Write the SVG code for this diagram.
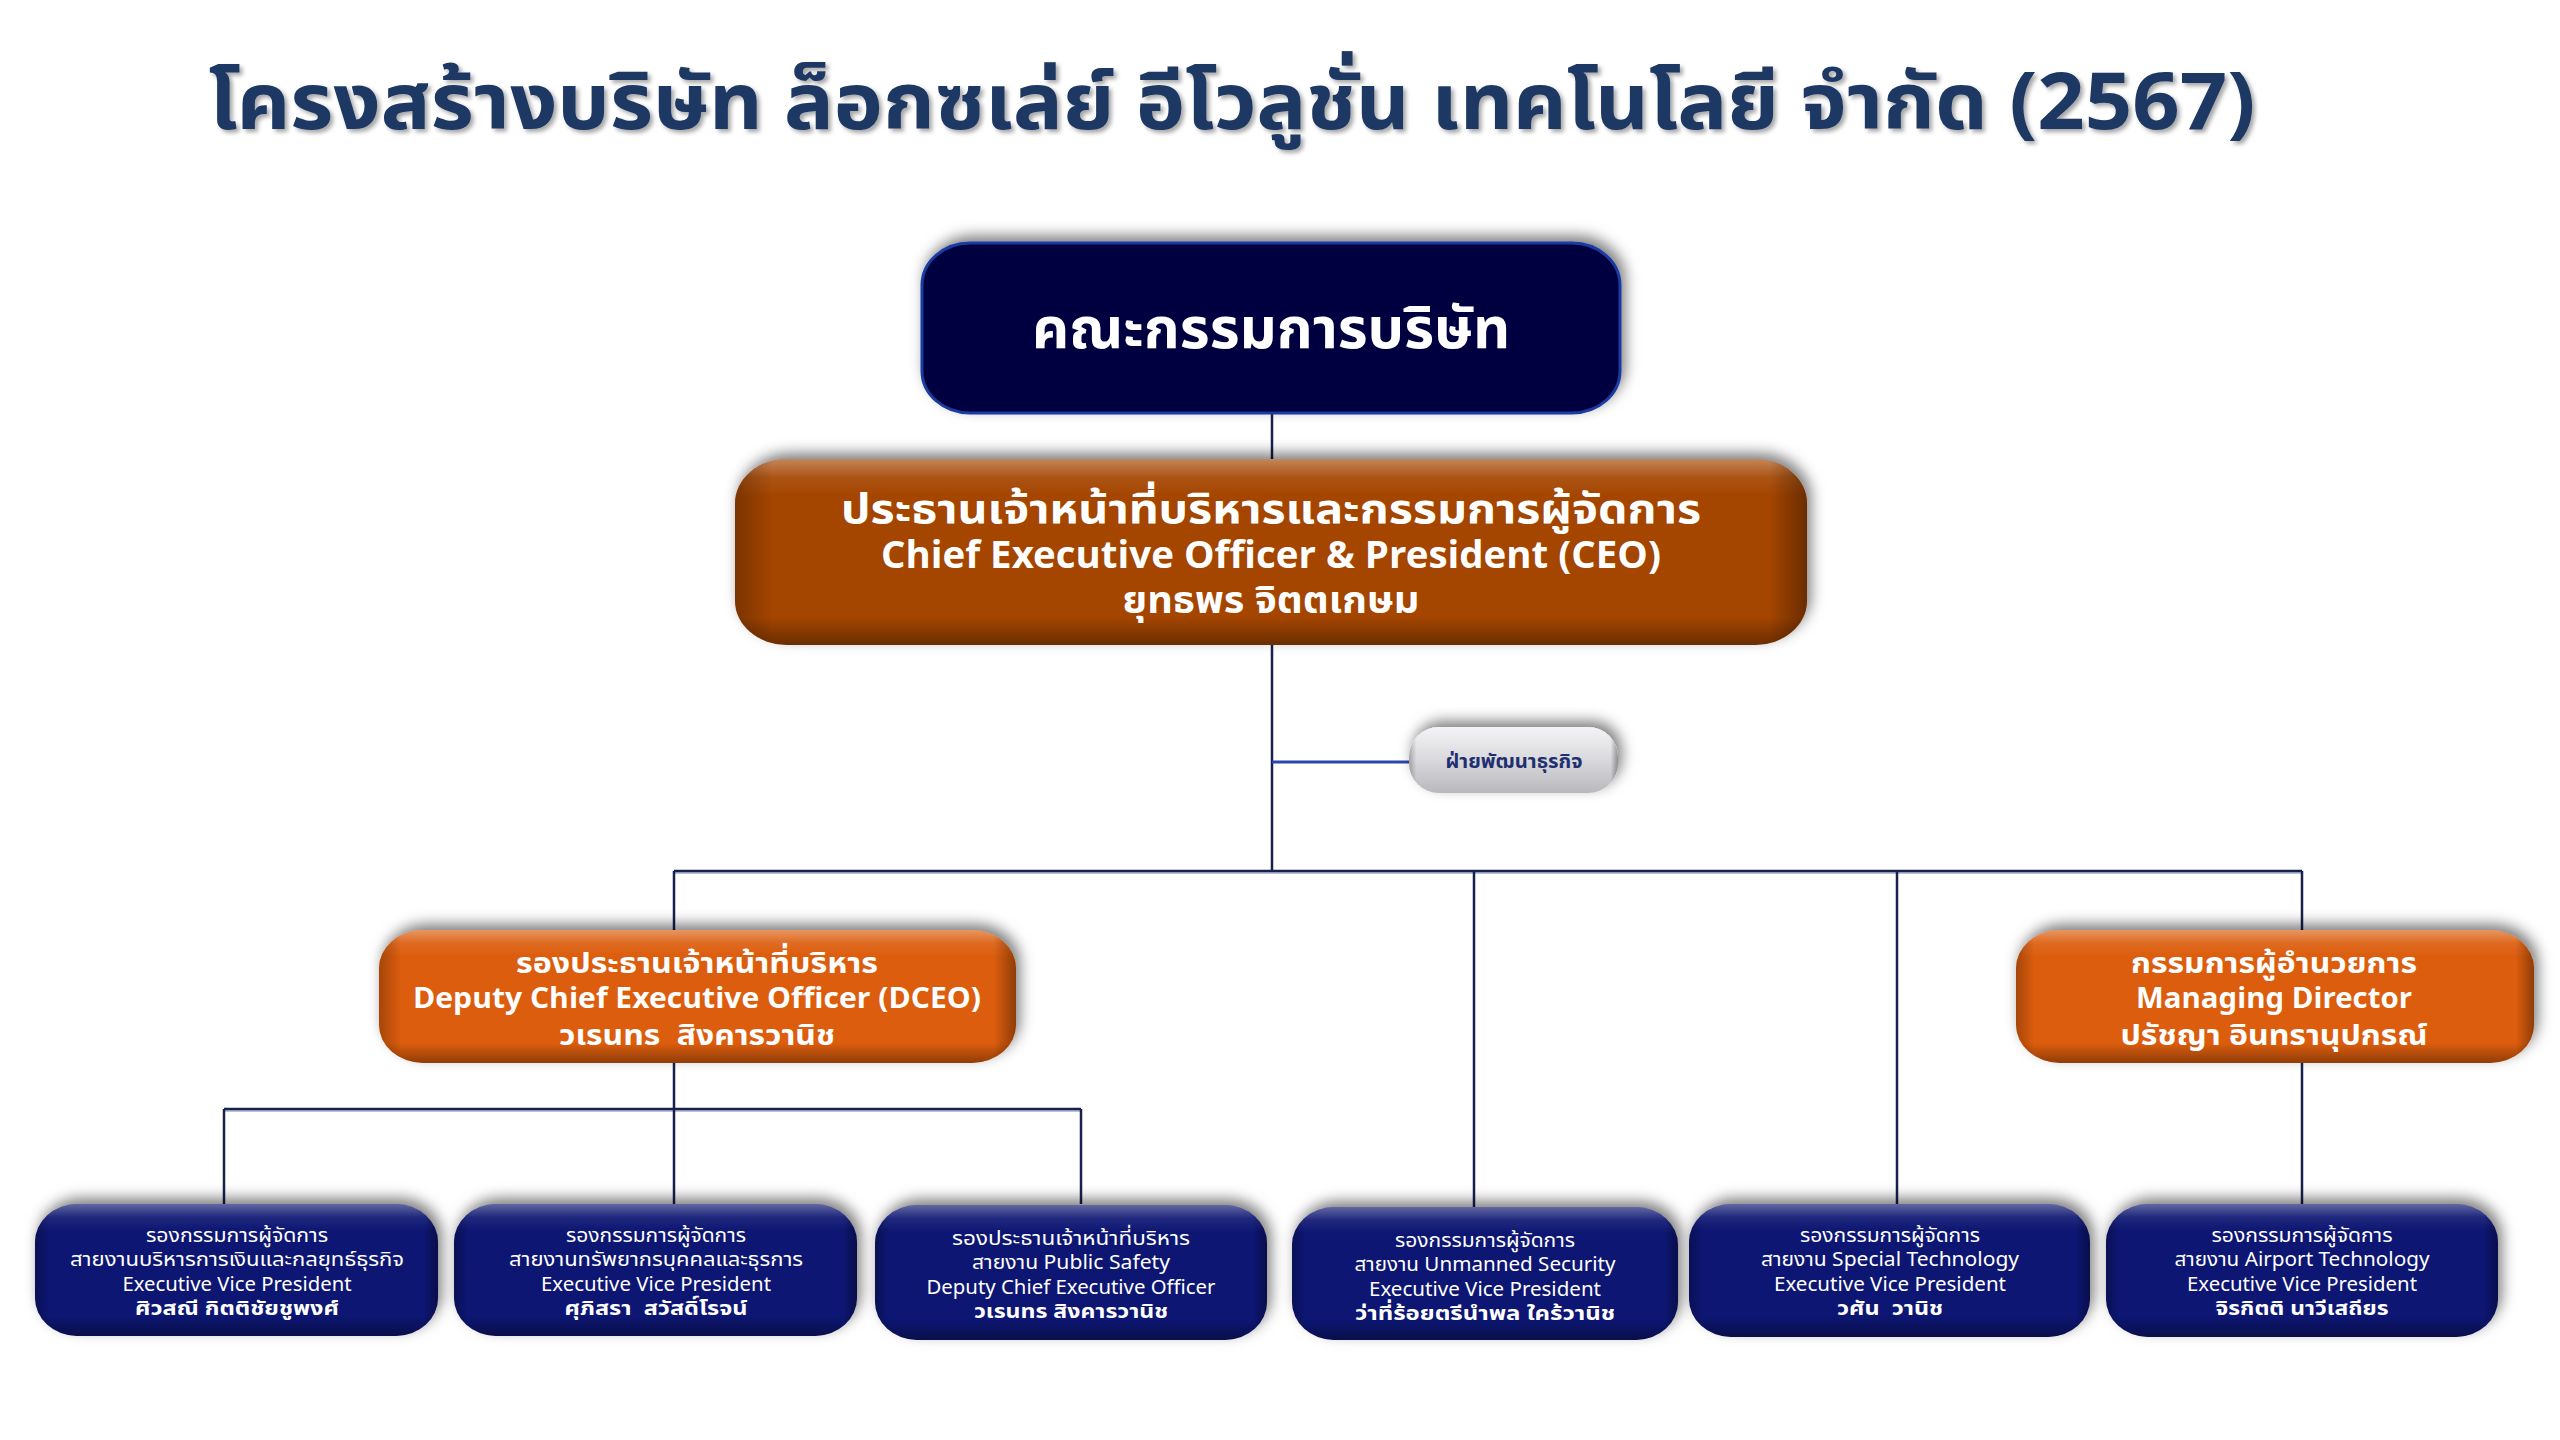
<svg xmlns="http://www.w3.org/2000/svg" width="2560" height="1440" viewBox="0 0 2560 1440">
<defs>
<filter id="shadow" x="-10%" y="-30%" width="120%" height="160%">
<feDropShadow dx="4" dy="-6" stdDeviation="7" flood-color="#000" flood-opacity="0.5"/>
</filter>
<filter id="tshadow" x="-5%" y="-30%" width="110%" height="160%">
<feDropShadow dx="3" dy="3" stdDeviation="2" flood-color="#000" flood-opacity="0.35"/>
</filter>
<linearGradient id="bevV" x1="0" y1="0" x2="0" y2="1">
<stop offset="0" stop-color="#fff" stop-opacity="0.35"/>
<stop offset="0.1" stop-color="#fff" stop-opacity="0.08"/>
<stop offset="0.2" stop-color="#fff" stop-opacity="0"/>
<stop offset="0.85" stop-color="#000" stop-opacity="0"/>
<stop offset="1" stop-color="#000" stop-opacity="0.35"/>
</linearGradient>
<linearGradient id="bevH" x1="0" y1="0" x2="1" y2="0">
<stop offset="0" stop-color="#000" stop-opacity="0.25"/>
<stop offset="0.035" stop-color="#000" stop-opacity="0"/>
<stop offset="0.965" stop-color="#000" stop-opacity="0"/>
<stop offset="1" stop-color="#000" stop-opacity="0.35"/>
</linearGradient>
<linearGradient id="silver" x1="0" y1="0" x2="0" y2="1">
<stop offset="0" stop-color="#f4f4f6"/>
<stop offset="0.5" stop-color="#d9d8dc"/>
<stop offset="1" stop-color="#b9b8bc"/>
</linearGradient>
<style>
.t{font-family:Tahoma,"Noto Sans Thai","Leelawadee UI","Noto Sans","DejaVu Sans",sans-serif;text-anchor:middle;fill:#fff}
.b{font-weight:bold}
.ln{stroke:#18204e;stroke-width:2.5;fill:none}
.lnsh{stroke:#b7c2da;stroke-width:2;fill:none}
.navy{fill:#101472}
.board{fill:#03053f;stroke:#1a3aa0;stroke-width:3}
.ceo{fill:#a44405}
.dceo{fill:#dc5d08}
.bv{fill:url(#bevV)}
.bh{fill:url(#bevH)}
.s20{font-size:20px}
</style>
</defs>
<rect width="2560" height="1440" fill="#fff"/>

<text class="t b" x="1232" y="129" font-size="78" textLength="2047" lengthAdjust="spacingAndGlyphs" style="fill:#1f3864" filter="url(#tshadow)">โครงสร้างบริษัท ล็อกซเล่ย์ อีโวลูชั่น เทคโนโลยี จำกัด (2567)</text>

<g id="connectors">
<line class="lnsh" x1="674" y1="873" x2="2302" y2="873"/>
<line class="lnsh" x1="224" y1="1111" x2="1081" y2="1111"/>
<path class="ln" d="M1272 413 V459 M1272 645 V871 M674 871 H2302 M674 871 V930 M1474 871 V1207 M1897 871 V1204 M2302 871 V930 M674 1063 V1204 M224 1109 H1081 M224 1109 V1204 M1081 1109 V1204 M2302 1063 V1204"/>
<line x1="1272" y1="762" x2="1410" y2="762" stroke="#2b46ad" stroke-width="3"/>
</g>

<g id="board">
<rect class="board" x="922" y="243" width="698" height="170" rx="48" ry="42" filter="url(#shadow)"/>
<text class="t b" x="1271" y="348" font-size="56" textLength="478" lengthAdjust="spacingAndGlyphs">คณะกรรมการบริษัท</text>
</g>

<g id="ceo">
<rect class="ceo" x="735" y="459" width="1072" height="186" rx="52" ry="44" filter="url(#shadow)"/>
<rect class="bv" x="735" y="459" width="1072" height="186" rx="52" ry="44"/>
<rect class="bh" x="735" y="459" width="1072" height="186" rx="52" ry="44"/>
<text class="t b" x="1271" y="523" font-size="40" textLength="860" lengthAdjust="spacingAndGlyphs">ประธานเจ้าหน้าที่บริหารและกรรมการผู้จัดการ</text>
<text class="t b" x="1271" y="568" font-size="37" textLength="780" lengthAdjust="spacingAndGlyphs">Chief Executive Officer &amp; President (CEO)</text>
<text class="t b" x="1271" y="613" font-size="37" textLength="297" lengthAdjust="spacingAndGlyphs">ยุทธพร จิตตเกษม</text>
</g>

<g id="bizdev">
<rect x="1409" y="727" width="209" height="66" rx="30" fill="url(#silver)" filter="url(#shadow)"/>
<rect class="bh" x="1409" y="727" width="209" height="66" rx="30"/>
<text class="t b" x="1514" y="768" font-size="20" textLength="137" lengthAdjust="spacingAndGlyphs" style="fill:#1f3070">ฝ่ายพัฒนาธุรกิจ</text>
</g>

<g id="dceo">
<rect class="dceo" x="379" y="930" width="637" height="133" rx="44" ry="38" filter="url(#shadow)"/>
<rect class="bv" x="379" y="930" width="637" height="133" rx="44" ry="38"/>
<rect class="bh" x="379" y="930" width="637" height="133" rx="44" ry="38"/>
<text class="t b" x="697" y="973" font-size="29" textLength="362" lengthAdjust="spacingAndGlyphs">รองประธานเจ้าหน้าที่บริหาร</text>
<text class="t b" x="697" y="1008" font-size="29" textLength="568" lengthAdjust="spacingAndGlyphs">Deputy Chief Executive Officer (DCEO)</text>
<text class="t b" x="697" y="1045" font-size="29" textLength="276" lengthAdjust="spacingAndGlyphs">วเรนทร&#160; สิงคารวานิช</text>
</g>

<g id="md">
<rect class="dceo" x="2016" y="930" width="518" height="133" rx="44" ry="38" filter="url(#shadow)"/>
<rect class="bv" x="2016" y="930" width="518" height="133" rx="44" ry="38"/>
<rect class="bh" x="2016" y="930" width="518" height="133" rx="44" ry="38"/>
<text class="t b" x="2274" y="973" font-size="29" textLength="286" lengthAdjust="spacingAndGlyphs">กรรมการผู้อำนวยการ</text>
<text class="t b" x="2274" y="1008" font-size="29" textLength="276" lengthAdjust="spacingAndGlyphs">Managing Director</text>
<text class="t b" x="2274" y="1045" font-size="29" textLength="307" lengthAdjust="spacingAndGlyphs">ปรัชญา อินทรานุปกรณ์</text>
</g>

<g id="evp-finance">
<rect class="navy" x="35" y="1204" width="403" height="132" rx="42" ry="38" filter="url(#shadow)"/>
<rect class="bv" x="35" y="1204" width="403" height="132" rx="42" ry="38"/>
<rect class="bh" x="35" y="1204" width="403" height="132" rx="42" ry="38"/>
<text class="t s20" x="237" y="1242" textLength="182" lengthAdjust="spacingAndGlyphs">รองกรรมการผู้จัดการ</text>
<text class="t s20" x="237" y="1266" textLength="334" lengthAdjust="spacingAndGlyphs">สายงานบริหารการเงินและกลยุทธ์ธุรกิจ</text>
<text class="t s20" x="237" y="1291" textLength="229" lengthAdjust="spacingAndGlyphs">Executive Vice President</text>
<text class="t s20 b" x="237" y="1315" textLength="204" lengthAdjust="spacingAndGlyphs">ศิวสณี กิตติชัยชูพงศ์</text>
</g>

<g id="evp-hr">
<rect class="navy" x="454" y="1204" width="403" height="132" rx="42" ry="38" filter="url(#shadow)"/>
<rect class="bv" x="454" y="1204" width="403" height="132" rx="42" ry="38"/>
<rect class="bh" x="454" y="1204" width="403" height="132" rx="42" ry="38"/>
<text class="t s20" x="656" y="1242" textLength="180" lengthAdjust="spacingAndGlyphs">รองกรรมการผู้จัดการ</text>
<text class="t s20" x="656" y="1266" textLength="294" lengthAdjust="spacingAndGlyphs">สายงานทรัพยากรบุคคลและธุรการ</text>
<text class="t s20" x="656" y="1291" textLength="230" lengthAdjust="spacingAndGlyphs">Executive Vice President</text>
<text class="t s20 b" x="656" y="1315" textLength="183" lengthAdjust="spacingAndGlyphs">ศุภิสรา&#160; สวัสดิ์โรจน์</text>
</g>

<g id="dceo-public-safety">
<rect class="navy" x="875" y="1205" width="392" height="135" rx="42" ry="38" filter="url(#shadow)"/>
<rect class="bv" x="875" y="1205" width="392" height="135" rx="42" ry="38"/>
<rect class="bh" x="875" y="1205" width="392" height="135" rx="42" ry="38"/>
<text class="t s20" x="1071" y="1245" textLength="238" lengthAdjust="spacingAndGlyphs">รองประธานเจ้าหน้าที่บริหาร</text>
<text class="t s20" x="1071" y="1269" textLength="198" lengthAdjust="spacingAndGlyphs">สายงาน Public Safety</text>
<text class="t s20" x="1071" y="1294" textLength="289" lengthAdjust="spacingAndGlyphs">Deputy Chief Executive Officer</text>
<text class="t s20 b" x="1071" y="1318" textLength="194" lengthAdjust="spacingAndGlyphs">วเรนทร สิงคารวานิช</text>
</g>

<g id="evp-unmanned">
<rect class="navy" x="1292" y="1207" width="386" height="133" rx="42" ry="38" filter="url(#shadow)"/>
<rect class="bv" x="1292" y="1207" width="386" height="133" rx="42" ry="38"/>
<rect class="bh" x="1292" y="1207" width="386" height="133" rx="42" ry="38"/>
<text class="t s20" x="1485" y="1247" textLength="180" lengthAdjust="spacingAndGlyphs">รองกรรมการผู้จัดการ</text>
<text class="t s20" x="1485" y="1271" textLength="261" lengthAdjust="spacingAndGlyphs">สายงาน Unmanned Security</text>
<text class="t s20" x="1485" y="1296" textLength="232" lengthAdjust="spacingAndGlyphs">Executive Vice President</text>
<text class="t s20 b" x="1485" y="1320" textLength="260" lengthAdjust="spacingAndGlyphs">ว่าที่ร้อยตรีนำพล ใคร้วานิช</text>
</g>

<g id="evp-special">
<rect class="navy" x="1689" y="1204" width="401" height="133" rx="42" ry="38" filter="url(#shadow)"/>
<rect class="bv" x="1689" y="1204" width="401" height="133" rx="42" ry="38"/>
<rect class="bh" x="1689" y="1204" width="401" height="133" rx="42" ry="38"/>
<text class="t s20" x="1890" y="1242" textLength="180" lengthAdjust="spacingAndGlyphs">รองกรรมการผู้จัดการ</text>
<text class="t s20" x="1890" y="1266" textLength="258" lengthAdjust="spacingAndGlyphs">สายงาน Special Technology</text>
<text class="t s20" x="1890" y="1291" textLength="232" lengthAdjust="spacingAndGlyphs">Executive Vice President</text>
<text class="t s20 b" x="1890" y="1315" textLength="106" lengthAdjust="spacingAndGlyphs">วศัน&#160; วานิช</text>
</g>

<g id="evp-airport">
<rect class="navy" x="2106" y="1204" width="392" height="133" rx="42" ry="38" filter="url(#shadow)"/>
<rect class="bv" x="2106" y="1204" width="392" height="133" rx="42" ry="38"/>
<rect class="bh" x="2106" y="1204" width="392" height="133" rx="42" ry="38"/>
<text class="t s20" x="2302" y="1242" textLength="181" lengthAdjust="spacingAndGlyphs">รองกรรมการผู้จัดการ</text>
<text class="t s20" x="2302" y="1266" textLength="255" lengthAdjust="spacingAndGlyphs">สายงาน Airport Technology</text>
<text class="t s20" x="2302" y="1291" textLength="230" lengthAdjust="spacingAndGlyphs">Executive Vice President</text>
<text class="t s20 b" x="2302" y="1315" textLength="173" lengthAdjust="spacingAndGlyphs">จิรกิตติ นาวีเสถียร</text>
</g>
</svg>
